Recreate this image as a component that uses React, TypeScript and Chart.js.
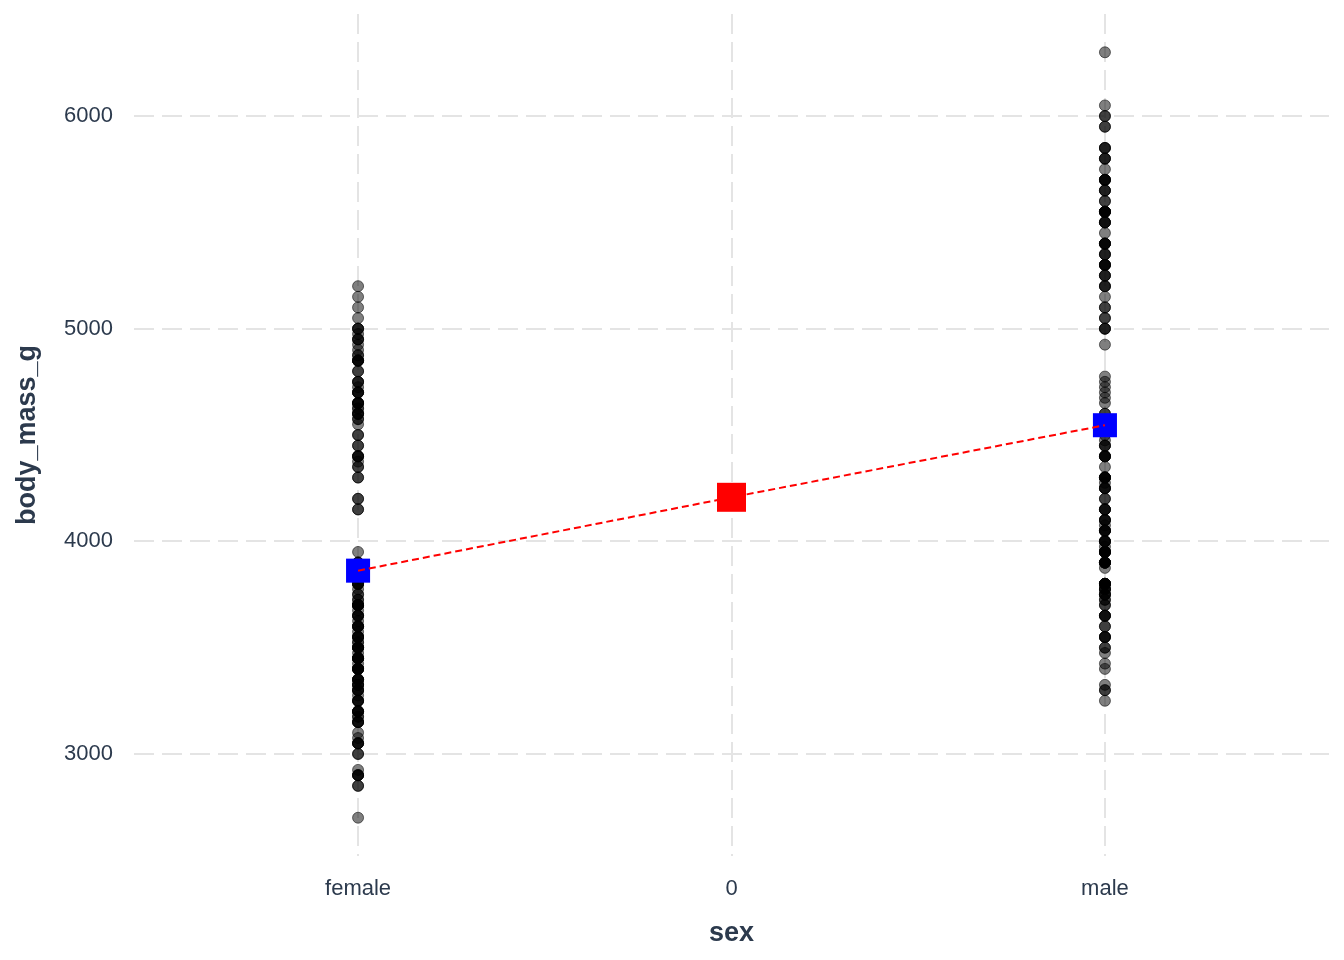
import React, { useEffect, useRef } from "react";
import { Chart, registerables } from "chart.js";

Chart.register(...registerables);

const categories = ["female", "0", "male"];

const femaleMass = [
  3800, 3250, 3450, 3625, 3200, 3700, 3450, 3325, 3400, 3800, 3800, 3200, 3150, 3250, 3300, 3325, 3550, 3300,
  3150, 3100, 3000, 3450, 3500, 3450, 2900, 3550, 2850, 3150, 3600, 2850, 3350, 3050, 3600, 3550, 3700, 3700,
  3550, 3200, 3800, 3350, 3500, 3600, 3550, 3400, 3300, 3700, 2900, 3725, 3075, 2925, 3750, 3175, 3825, 3200,
  3900, 2900, 3350, 3150, 3450, 3050, 3275, 3050, 3325, 3500, 3425, 3175, 3400, 3400, 3050, 3000, 3475, 3450,
  3700, 3500, 3900, 3650, 3525, 3725, 3250, 3750, 3500, 3450, 3400, 3800, 3700, 3575, 3700, 3450, 3600, 2900,
  3300, 3400, 3700, 3200, 3350, 3900, 3850, 2700, 3650, 3500, 3675, 3400, 3325, 3600, 3350, 3250, 3525, 3650,
  3650, 3400, 3775, 4500, 4450, 4550, 4800, 4400, 4650, 4650, 4200, 4150, 4800, 5000, 4400, 5000, 4600, 4700,
  5050, 5150, 4950, 4350, 3950, 4300, 4900, 4200, 4350, 4150, 4950, 4300, 4850, 4400, 4850, 4600, 4650, 4500,
  4575, 4450, 4700, 4750, 4600, 4625, 4725, 4750, 4600, 4875, 4950, 4750, 4850, 4875, 4625, 4850, 4975, 4700,
  4575, 5000, 4650, 4375, 4925, 4850, 5200, 5100, 4700, 4400, 4650,
];

const maleMass = [
  3750, 3650, 4675, 3800, 4400, 4500, 4200, 3600, 3950, 3800, 3550, 3950, 3900, 3900, 4150, 3950, 4650, 3900,
  4400, 4600, 3425, 4150, 4300, 4050, 3700, 3800, 3750, 4400, 4050, 3950, 4100, 4450, 3900, 4150, 4250, 3900,
  4000, 4700, 4200, 3550, 3800, 3950, 4300, 4450, 4300, 4350, 4100, 4725, 4250, 3550, 3900, 4775, 4600, 4275,
  4075, 3775, 3325, 3500, 3875, 4000, 4300, 4000, 3500, 4475, 3900, 3975, 4250, 3475, 3725, 3650, 4250, 3750,
  4000, 3900, 3650, 3725, 3750, 3700, 3775, 4050, 3300, 4400, 3400, 4150, 3800, 3950, 4050, 3300, 4300, 4450,
  3550, 4300, 4100, 3600, 3950, 4550, 3800, 4400, 3800, 3775, 4100, 3775, 4050, 3650, 3950, 3800, 4000, 3250,
  5700, 5700, 5400, 5200, 5150, 5550, 5850, 5850, 6300, 5350, 5700, 5050, 5100, 5650, 5550, 5250, 6050, 5400,
  5250, 5350, 5700, 4750, 5550, 5400, 5300, 5300, 5000, 5050, 5000, 5550, 5300, 5650, 5700, 5800, 5550, 5000,
  5100, 5800, 6000, 5950, 5450, 5350, 5600, 5300, 5550, 5400, 5650, 5200, 4925, 5250, 5600, 5500, 5500, 5950,
  5500, 5800, 5850, 6000, 5750, 5400, 5200, 5500, 5550, 5300,
];

const groupMeans = [3862, 4207, 4546];

const yTicks = [3000, 4000, 5000, 6000];

export default function App() {
  const canvasRef = useRef<HTMLCanvasElement | null>(null);

  useEffect(() => {
    document.body.style.margin = "0";
    const canvas = canvasRef.current;
    if (!canvas) return;

    const pts = [
      ...femaleMass.map((v) => ({ x: 0, y: v })),
      ...maleMass.map((v) => ({ x: 2, y: v })),
    ];
    const meanPts = groupMeans.map((v, i) => ({ x: i, y: v }));

    const textColor = "#2c3a4d";
    const gridColor = "#e4e4e4";
    const family = "Liberation Sans, Arial, sans-serif";

    const chart = new Chart(canvas, {
      type: "scatter",
      data: {
        datasets: [
          {
            label: "overall",
            data: [meanPts[1]],
            pointStyle: "rect",
            pointRadius: 20.5,
            backgroundColor: "#ff0000",
            borderColor: "#ff0000",
            borderWidth: 0,
            order: 0,
          },
          {
            label: "line",
            type: "line",
            data: meanPts,
            borderColor: "#ff0000",
            borderWidth: 2,
            borderDash: [7, 4],
            pointRadius: 0,
            fill: false,
            showLine: true,
            order: 1,
          },
          {
            label: "means",
            data: [meanPts[0], meanPts[2]],
            pointStyle: "rect",
            pointRadius: 17,
            backgroundColor: "#0000ff",
            borderColor: "#0000ff",
            borderWidth: 0,
            order: 2,
          },
          {
            label: "points",
            data: pts,
            pointRadius: 5.5,
            backgroundColor: "rgba(0,0,0,0.5)",
            borderColor: "rgba(0,0,0,0.55)",
            borderWidth: 1,
            order: 3,
          },
        ],
      },
      options: {
        responsive: false,
        animation: false,
        layout: { autoPadding: false, padding: { top: 14, right: 15, left: 0, bottom: 0 } },
        plugins: { legend: { display: false }, tooltip: { enabled: false } },
        scales: {
          x: {
            type: "linear",
            min: -0.6,
            max: 2.6,
            afterBuildTicks: (axis: any) => {
              axis.ticks = [0, 1, 2].map((v) => ({ value: v }));
            },
            afterFit: (axis: any) => {
              axis.height = 104;
              axis.paddingLeft = 0;
              axis.paddingRight = 0;
            },
            border: { display: false, dash: [20, 8] },
            grid: {
              color: gridColor,
              lineWidth: 2,
              drawTicks: false,
            },
            ticks: {
              padding: 20,
              color: textColor,
              font: { family, size: 22 },
              callback: (v: any) => categories[Math.round(Number(v))] ?? "",
            },
            title: {
              display: true,
              text: "sex",
              color: textColor,
              font: { family, size: 27, weight: "bold" },
              padding: { top: 0, bottom: 10 },
            },
          },
          y: {
            type: "linear",
            min: 2520,
            max: 6480,
            afterBuildTicks: (axis: any) => {
              axis.ticks = yTicks.map((v) => ({ value: v }));
            },
            afterFit: (axis: any) => {
              axis.width = 134;
              axis.paddingTop = 0;
              axis.paddingBottom = 0;
            },
            border: { display: false, dash: [20, 8] },
            grid: {
              color: gridColor,
              lineWidth: 2,
              drawTicks: false,
            },
            ticks: {
              padding: 21,
              color: textColor,
              font: { family, size: 22 },
              callback: (v: any) => String(v),
            },
            title: {
              display: true,
              text: "body_mass_g",
              color: textColor,
              font: { family, size: 27, weight: "bold" },
              padding: { top: 11, bottom: 0 },
            },
          },
        },
      },
    } as any);

    return () => chart.destroy();
  }, []);

  return <canvas ref={canvasRef} width={1344} height={960} style={{ display: "block" }} />;
}
